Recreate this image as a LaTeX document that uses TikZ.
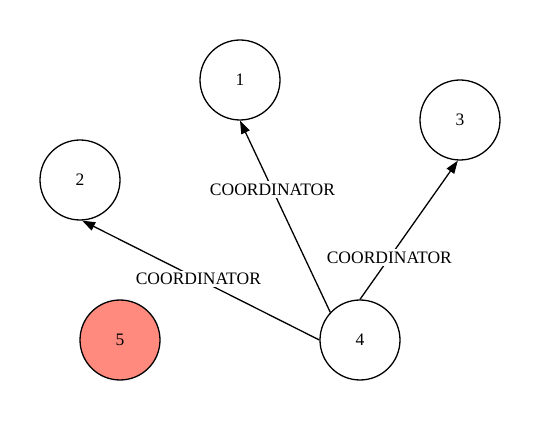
\documentclass[tikz,border=0pt]{standalone}
\usepackage{fontspec}
\setmainfont{Liberation Serif}
\usetikzlibrary{arrows.meta}
\definecolor{nodesalmon}{RGB}{255,138,125}
\tikzset{
  member/.style={circle, draw, line width=1.3pt, minimum size=80pt, inner sep=0pt,
    font=\fontsize{17.5}{20}\selectfont},
  role/.style={fill=white, inner xsep=1pt, inner ysep=2.5pt, font=\fontsize{17.5}{20}\selectfont}
}
\begin{document}
\begin{tikzpicture}[x=1pt, y=1pt, >={Triangle[length=13pt,width=9pt]}]
  \useasboundingbox (0,0) rectangle (540,420);

  % cluster members
  \node[member] (n1) at (240,340) {1};
  \node[member] (n2) at (80,240) {2};
  \node[member] (n3) at (460,300) {3};
  \node[member] (n4) at (360,80) {4};
  \node[member, fill=nodesalmon] (n5) at (120,80) {5};

  % coordinator links
  \draw[->, line width=1.3pt] (n4.137) -- node[role, pos=0.64] {COORDINATOR} (n1.270);
  \draw[->, line width=1.3pt] (n4.180) -- node[role, pos=0.51] {COORDINATOR} (n2.273);
  \draw[->, line width=1.3pt] (n4.90) -- node[role, pos=0.3] {COORDINATOR} (n3.267);
\end{tikzpicture}
\end{document}
